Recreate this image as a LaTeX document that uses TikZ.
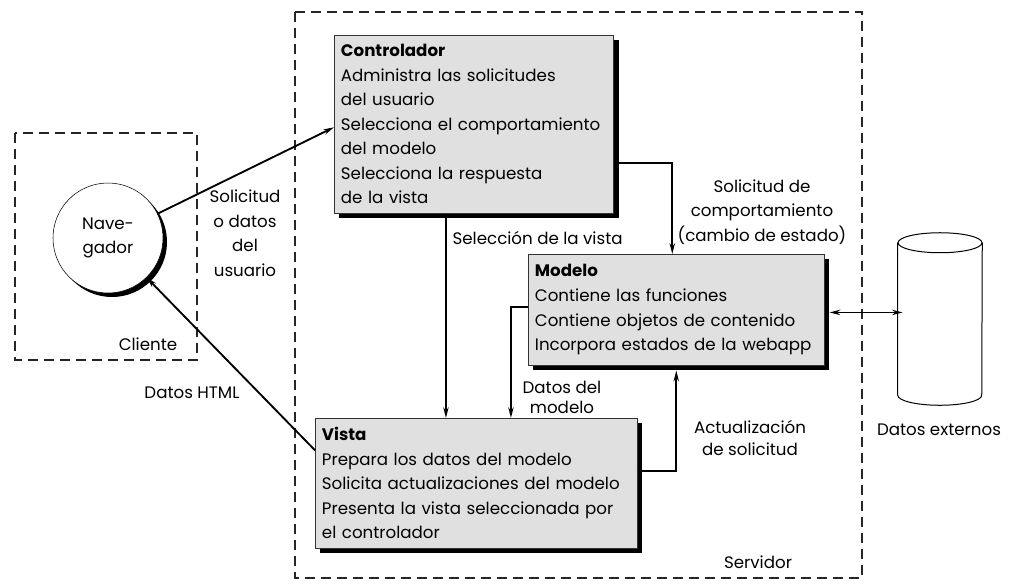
\documentclass[tikz,border=0pt]{standalone}
\usepackage{fontspec}
\setmainfont{Poppins}
\usetikzlibrary{positioning,calc,arrows.meta,shadows}
\hyphenpenalty=10000

\begin{document}
\begin{tikzpicture}[x=0.75pt,y=-0.75pt,
    font=\fontsize{12.5}{18.4}\selectfont,
    caja/.style={draw=black!80, fill=black!12, align=left, inner xsep=5pt, inner ysep=2pt, anchor=north west,
        drop shadow={shadow xshift=3.75pt, shadow yshift=-3.75pt, fill=black, opacity=1}},
    zona/.style={draw=black!85, dash pattern=on 7.5pt off 4.5pt, line width=0.9pt},
    flecha/.style={-{Stealth[length=8pt,width=4pt]}, line width=1.4pt},
    dobleflecha/.style={{Stealth[length=8pt,width=4pt]}-{Stealth[length=8pt,width=4pt]}, line width=1.4pt},
    etiq/.style={align=center, inner sep=1pt}
]
    \useasboundingbox (0,0) rectangle (1021,583);

    % cliente y servidor
    \draw[zona] (15,133) rectangle (197,360);
    \draw[zona] (295,12) rectangle (862,578);
    \node (cli) at (148,344) {Cliente};
    \node (serv) at (758,562) {Servidor};

    \node[circle, draw=black, fill=white, minimum size=82.5pt, align=center, inner sep=0pt,
        drop shadow={shadow xshift=3pt, shadow yshift=-3pt, fill=black, opacity=1}] (nav) at (108,238) {Nave-\\gador};

    \node[caja, text width=199.5pt, minimum height=133.5pt] (ctrl) at (334,35) {\textbf{Controlador}\\Administra las solicitudes\\del usuario\\Selecciona el comportamiento\\del modelo\\Selecciona la respuesta\\de la vista};
    \node[caja, text width=212pt, minimum height=83.25pt] (mod) at (528,254) {\textbf{Modelo}\\Contiene las funciones\\Contiene objetos de contenido\\Incorpora estados de la webapp};
    \node[caja, text width=231.5pt, minimum height=97.5pt] (vista) at (315,418) {\textbf{Vista}\\Prepara los datos del modelo\\Solicita actualizaciones del modelo\\Presenta la vista seleccionada por\\el controlador};

    % datos externos
    \node[minimum width=63pt, minimum height=114pt, inner sep=0pt] (cyl) at (940,319) {};
    \draw[line width=0.75pt] (cyl.north west) -- (cyl.south west) arc[start angle=180, end angle=360, x radius=31.5pt, y radius=7.5pt] -- (cyl.north east);
    \draw[line width=0.75pt] (cyl.north) ellipse [x radius=31.5pt, y radius=7.5pt];
    \node (ext) at (939,430) {Datos externos};

    \node[etiq] (solic) at (245,233) {Solicitud\\o datos\\del\\usuario};
    \node[etiq] (html) at (192,393) {Datos HTML};
    \node[etiq, anchor=west] (selv) at (451,238) {Selección de la vista};
    \node[etiq] (comp) at (762,212) {Solicitud de\\comportamiento\\(cambio de estado)};
    \node[etiq, font=\fontsize{12.5}{15}\selectfont] (datmod) at (562,397) {Datos del\\modelo};
    \node[etiq, font=\fontsize{12.5}{16.5}\selectfont] (act) at (750,438) {Actualización\\de solicitud};

    \draw[flecha] (nav) -- ([yshift=-2.25pt]ctrl.west);
    \draw[flecha] ([yshift=24.75pt]vista.west) -- (nav);
    \draw[flecha] ([yshift=-29pt]ctrl.east) -| ([xshift=-3pt]mod.north);
    \draw[flecha] ([xshift=-21pt]ctrl.south) -- ([xshift=-21pt]ctrl.south |- vista.north);
    \draw[flecha] ([yshift=2pt]mod.west) -| ([xshift=26pt]vista.north);
    \draw[flecha] ([yshift=9pt]vista.east) -| ([yshift=-3.75pt]mod.south);
    \draw[dobleflecha] ([xshift=3.75pt,yshift=-2pt]mod.east) -- ([xshift=3.75pt,yshift=-2pt]mod.east -| cyl.west);
\end{tikzpicture}
\end{document}
